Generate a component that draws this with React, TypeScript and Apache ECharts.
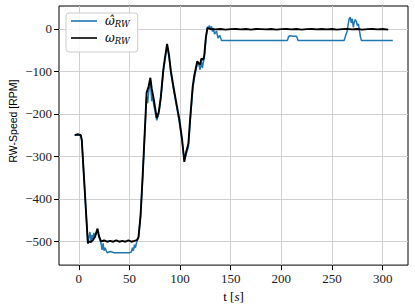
import React, { useEffect, useRef } from 'react';
import * as echarts from 'echarts';

const xTicks = [0, 50, 100, 150, 200, 250, 300];
const yTicks = [-500, -400, -300, -200, -100, 0];

// estimated reaction wheel speed (blue)
const est: [number, number][] = [
  [-4, -250], [2, -250], [3, -262], [9, -505], [10, -490], [11, -478], [12, -500], [13, -485],
  [14, -495], [15, -480], [16, -490], [18.5, -472], [20, -490], [22, -505], [23, -520], [24, -505],
  [25, -522], [26, -515], [28, -527], [31, -524], [35, -527], [40, -527], [45, -527], [50, -527],
  [52, -525], [53, -515], [54, -522], [55, -508], [56, -515], [57, -503], [58, -497], [59, -490],
  [61, -440], [63, -355], [65, -255], [67, -160], [68, -175], [69, -150], [70.7, -122], [72, -170],
  [73, -160], [74, -178], [77, -215], [79, -200], [81, -165], [83.5, -100], [85, -75], [87.2, -38],
  [89, -65], [91, -105], [93.4, -140], [96, -175], [99.3, -220], [102, -265], [104.2, -308],
  [106, -295], [108.2, -278], [110, -218], [112.5, -142], [114, -118], [116, -92], [117, -84],
  [118, -78], [119.7, -96], [121, -76], [122, -92], [123, -78], [124, -66], [125.5, -22], [127, 5],
  [128, 2], [129, 8], [130, -2], [131, 6], [132, -6], [133, 2], [134, -12], [136, -5], [137.5, -22],
  [139, -15], [141, -27], [170, -27], [206, -27], [207, -19], [208, -16], [212, -17], [215, -17],
  [216.5, -27], [240, -27], [262, -27], [263.5, -15], [265, -5], [266, 12], [267, 24], [268, 28],
  [269, 14], [270, 24], [271, 4], [272, 16], [273, 22], [274, 18], [275, 8], [276, 12], [277, -2],
  [278, -18], [279, -27], [310, -27],
];

// measured reaction wheel speed (black)
const meas: [number, number][] = [
  [-4, -250], [-1, -248], [2, -250], [3, -262], [9, -505], [10, -500], [12, -502], [14, -497],
  [16, -490], [18.5, -470], [20, -488], [22, -500], [25, -498], [28, -501], [31, -499], [34, -501],
  [37, -498], [40, -501], [43, -499], [46, -501], [49, -498], [52, -501], [55, -499], [57.5, -497],
  [59, -490], [61, -440], [63, -350], [65, -250], [67, -150], [69, -135], [70.7, -115], [72, -140],
  [74, -165], [77, -210], [79, -195], [81, -160], [83.5, -95], [85, -70], [87.2, -35], [89, -60],
  [91, -100], [93.4, -135], [96, -170], [99.3, -213], [102, -260], [104.2, -313], [106, -290],
  [108.2, -270], [110, -210], [112.5, -135], [114, -110], [117, -76], [118, -80], [119.7, -84],
  [121, -70], [123, -72], [124, -60], [125.5, -20], [127, 2], [130, 0], [135, -1], [140, 0],
  [145, -1.5], [150, -0.5], [155, 0], [160, -1], [165, 0], [170, -1.5], [175, 0], [180, -0.5],
  [185, -1], [190, 0], [195, -1.5], [200, -0.5], [205, 0], [210, -1], [215, 0], [220, -1.5],
  [225, -0.5], [230, 0], [235, -1], [240, 0], [245, -1], [250, 0], [255, -1.5], [260, -0.5],
  [265, 0], [270, -1], [275, 0], [280, -1.5], [285, -0.5], [290, 0], [295, -1], [300, 0], [305.5, -1.5],
];

const serif = 'Liberation Serif';
const legendLine = 'path://M0,0L26,0L26,1.6L0,1.6Z';

export default function App() {
  const ref = useRef<HTMLDivElement>(null);
  useEffect(() => {
    const chart = echarts.init(ref.current!, null, { renderer: 'svg' });
    chart.setOption({
      animation: false,
      backgroundColor: '#ffffff',
      textStyle: { fontFamily: serif },
      grid: {
        left: 59, right: 7, top: 6, bottom: 42,
        show: true, borderColor: '#000', borderWidth: 1, backgroundColor: 'transparent',
      },
      xAxis: {
        type: 'value', min: -19.5, max: 325,
        axisLine: { show: false, onZero: false },
        axisTick: { show: true, length: 5, customValues: xTicks, lineStyle: { color: '#000', width: 1 } },
        axisLabel: {
          customValues: xTicks, fontFamily: serif, fontSize: 13, color: '#222', margin: 7,
        },
        splitLine: { show: true, lineStyle: { color: '#d0d0d0', width: 1 } },
        name: 't [{i|s}]',
        nameLocation: 'middle', nameGap: 23,
        nameTextStyle: {
          fontFamily: serif, fontSize: 13, color: '#000',
          rich: { i: { fontFamily: serif, fontStyle: 'italic', fontSize: 13, color: '#000' } },
        },
      },
      yAxis: {
        type: 'value', min: -556, max: 54,
        axisLine: { show: false, onZero: false },
        axisTick: { show: true, length: 5, customValues: yTicks, lineStyle: { color: '#000', width: 1 } },
        axisLabel: {
          customValues: yTicks, fontFamily: serif, fontSize: 13, color: '#222', margin: 7,
          formatter: (v: number) => String(v).replace('-', '\u2212'),
        },
        splitLine: { show: true, lineStyle: { color: '#d0d0d0', width: 1 } },
      },
      legend: {
        orient: 'vertical', left: 66, top: 13,
        itemWidth: 26, itemHeight: 14, itemGap: 4,
        padding: [2, 8, 7, 5],
        backgroundColor: 'rgba(255,255,255,0.85)',
        borderColor: '#cccccc', borderWidth: 1, borderRadius: 3,
        data: [
          { name: 'est', icon: legendLine },
          { name: 'meas', icon: legendLine },
        ],
        formatter: (name: string) => (name === 'est' ? '{w|\u03C9\u0302}{s|RW}' : '{w|\u03C9}{s|RW}'),
        textStyle: {
          rich: {
            w: { fontFamily: 'DejaVu Serif', fontStyle: 'italic', fontSize: 12, color: '#000', lineHeight: 14, padding: [0, 0, 0, 3] },
            s: { fontFamily: 'DejaVu Serif', fontStyle: 'italic', fontSize: 8.5, color: '#000', verticalAlign: 'bottom', lineHeight: 10 },
          },
        },
      },
      graphic: [
        {
          type: 'text', x: 13, y: 121, rotation: Math.PI / 2,
          style: {
            text: 'RW-Speed [RPM]', fontFamily: 'Liberation Sans', fontSize: 10.5, fill: '#000',
            align: 'center', verticalAlign: 'middle',
          },
        },
      ],
      series: [
        {
          name: 'est', type: 'line', data: est, showSymbol: false, symbol: 'none',
          color: '#1f77b4', lineStyle: { color: '#1f77b4', width: 1.5 }, z: 2,
        },
        {
          name: 'meas', type: 'line', data: meas, showSymbol: false, symbol: 'none',
          color: '#000000', lineStyle: { color: '#000000', width: 1.9 }, z: 3,
        },
      ],
    });
    return () => chart.dispose();
  }, []);
  return <div ref={ref} style={{ position: 'fixed', left: 0, top: 0, width: 415, height: 308 }} />;
}
